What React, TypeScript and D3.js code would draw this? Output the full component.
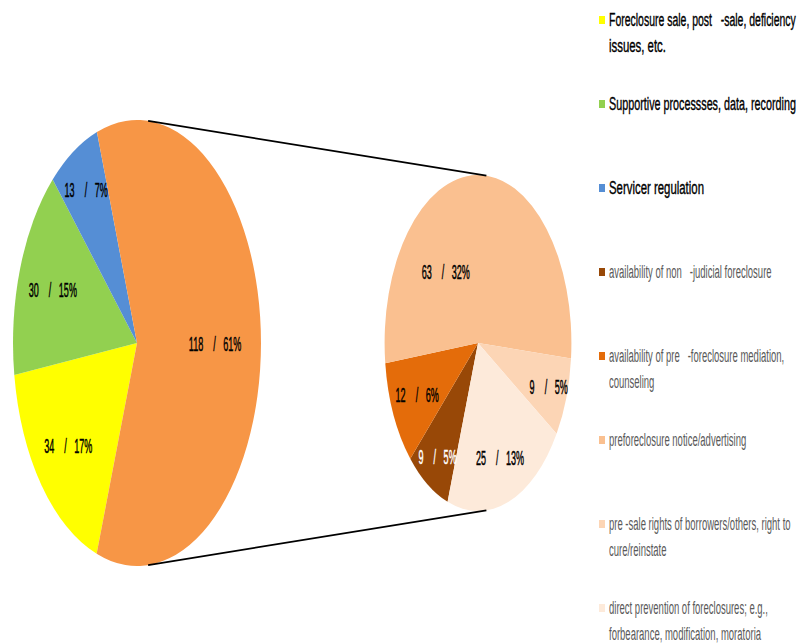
import React, { useEffect, useRef } from 'react';
import * as d3 from 'd3';

// primary pie (the "other" slice is split out into the secondary pie)
const primaryNames = ['Foreclosure sale', 'Supportive processes', 'Servicer regulation'];
const primaryValues = [34, 30, 13];
const primaryColors = ['#FFFF00', '#92D050', '#558ED5'];
const otherColor = '#F79646';

// secondary pie
const secondaryNames = ['non-judicial', 'mediation', 'notice', 'pre-sale rights', 'direct prevention'];
const secondaryValues = [9, 12, 63, 9, 25];
const secondaryColors = ['#984807', '#E46C0A', '#FAC090', '#FCD5B5', '#FDEADA'];

const legendLines = [
  ['Foreclosure sale, post   -sale, deficiency', 'issues, etc.'],
  ['Supportive processses, data, recording'],
  ['Servicer regulation'],
  ['availability of non   -judicial foreclosure'],
  ['availability of pre   -foreclosure mediation,', 'counseling'],
  ['preforeclosure notice/advertising'],
  ['pre -sale rights of borrowers/others, right to', 'cure/reinstate'],
  ['direct prevention of foreclosures; e.g.,', 'forbearance, modification, moratoria'],
];

const W = 798, H = 643;
const FONT = '"Liberation Sans", Arial, sans-serif';

export default function App() {
  const ref = useRef<SVGSVGElement>(null);

  useEffect(() => {
    const svg = d3.select(ref.current);
    svg.selectAll('*').remove();

    const k = 0.556; // horizontal squish of the whole chart
    const cy = 343;
    const left = { cx: 137, r: 223 };
    const right = { cx: 478, r: 168 };
    const start = (199 * Math.PI) / 180;

    const otherValue = d3.sum(secondaryValues);
    const total = d3.sum(primaryValues) + otherValue;

    const pie = d3.pie<number>().sort(null).value(d => d)
      .startAngle(start).endAngle(start + 2 * Math.PI);

    const drawPie = (cx: number, r: number, values: number[], colors: string[], bigF: number, shift: Record<number, number>) => {
      const arcs = pie(values);
      const arc = d3.arc<d3.PieArcDatum<number>>().innerRadius(0).outerRadius(r);
      svg.append('g')
        .attr('transform', `translate(${cx},${cy}) scale(${k},1)`)
        .selectAll('path').data(arcs).join('path')
        .attr('d', arc)
        .attr('fill', (d, i) => colors[i]);

      arcs.forEach((d, i) => {
        const span = d.endAngle - d.startAngle;
        const f = span > Math.PI ? bigF : span < 0.55 ? 0.8 : 0.72;
        const mid = (d.startAngle + d.endAngle) / 2 + ((shift[i] || 0) * Math.PI) / 180;
        const [lx, ly] = d3.arc().innerRadius(r * f).outerRadius(r * f)
          .centroid({ startAngle: mid, endAngle: mid } as any);
        const pct = Math.round((d.value / total) * 100);
        const c = d3.hsl(colors[i]).l < 0.35 ? '#fff' : '#000';
        svg.append('text')
          .attr('transform', `translate(${cx + lx * k},${cy + ly}) scale(0.43,1)`)
          .attr('text-anchor', 'middle')
          .attr('dy', '0.36em')
          .attr('font-family', FONT)
          .attr('font-size', 21)
          .attr('fill', c)
          .attr('stroke', c)
          .attr('stroke-width', 0.5)
          .style('white-space', 'pre')
          .text(`${d.value}    /   ${pct}%`);
      });
    };

    drawPie(left.cx, left.r, [...primaryValues, otherValue], [...primaryColors, otherColor], 0.63, {});
    drawPie(right.cx, right.r, secondaryValues, secondaryColors, 0.55, { 2: -38 });

    // connector lines: outer tangents of the two (unsquished) circles
    const dist = (right.cx - left.cx) / k;
    const nx = (left.r - right.r) / dist;
    [-1, 1].forEach(s => {
      const ny = s * Math.sqrt(1 - nx * nx);
      svg.append('line')
        .attr('x1', left.cx + left.r * nx * k).attr('y1', cy + left.r * ny)
        .attr('x2', right.cx + right.r * nx * k).attr('y2', cy + right.r * ny)
        .attr('stroke', '#000').attr('stroke-width', 1.8);
    });

    // legend
    const legendColors = [...primaryColors, ...secondaryColors];
    const lx = 599, y0 = 20, step = 84;
    const maxW = W - (lx + 10) - 2;
    legendLines.forEach((lines, i) => {
      const y = y0 + i * step;
      svg.append('rect').attr('x', lx).attr('y', y - 4).attr('width', 6).attr('height', 8)
        .attr('fill', legendColors[i]);
      lines.forEach((t, j) => {
        const tx = svg.append('text')
          .attr('font-family', FONT)
          .attr('font-size', 19)
          .attr('fill', i < 3 ? '#000' : '#595959')
          .attr('stroke', i < 3 ? '#000' : 'none')
          .attr('stroke-width', 0.4)
          .style('white-space', 'pre')
          .text(t);
        const w = (tx.node() as SVGTextElement).getComputedTextLength();
        const sx = Math.min(i < 3 ? 0.6 : 0.5, maxW / w);
        tx.attr('transform', `translate(${lx + 10},${y + 6 + j * 26}) scale(${sx},1)`);
      });
    });
  }, []);

  return (
    <div style={{ position: 'absolute', left: 0, top: 0 }}>
      <svg ref={ref} width={W} height={H} style={{ display: 'block', background: '#fff' }} />
    </div>
  );
}
